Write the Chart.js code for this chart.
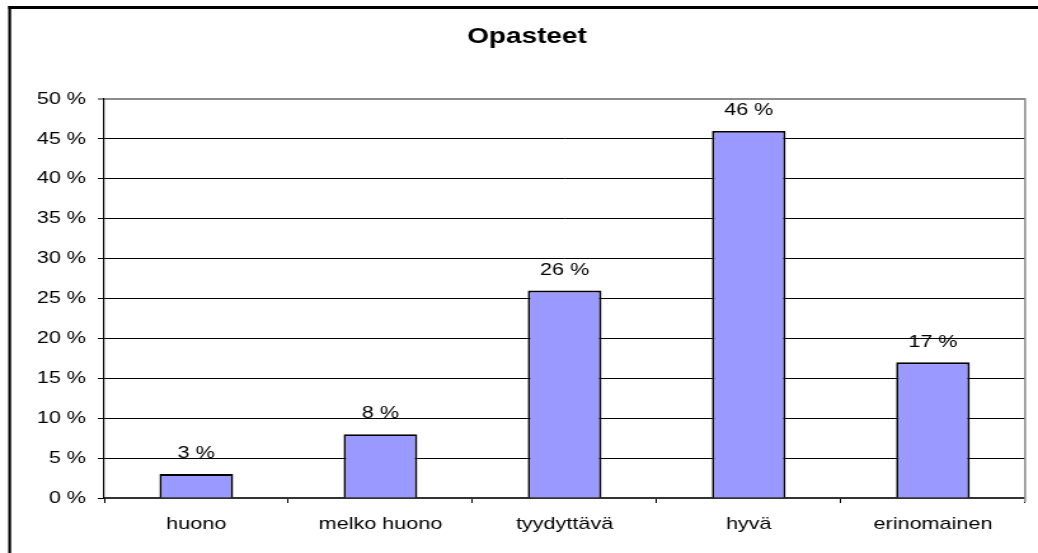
<!DOCTYPE html>
<html><head><meta charset="utf-8">
<script src="https://cdn.jsdelivr.net/npm/chart.js@4/dist/chart.umd.min.js"></script>
<style>html,body{margin:0;padding:0;background:#fff;overflow:hidden}
#c{display:block}</style>
</head><body>
<canvas id="c" width="817" height="553" style="width:1038px;height:553px"></canvas>
<script>
const chartTitle = 'Opasteet';
const categories = ['huono', 'melko huono', 'tyydyttävä', 'hyvä', 'erinomainen'];
const values = [3, 8, 26, 46, 17];
const yTickValues = [0, 5, 10, 15, 20, 25, 30, 35, 40, 45, 50];

const FONT = '"Liberation Sans", Arial, sans-serif';
const PAD_L = 22.8;

const frame = {
  id: 'frame',
  beforeDraw(chart) {
    const ctx = chart.ctx;
    ctx.save();
    ctx.fillStyle = '#fff';
    ctx.fillRect(0, 0, chart.width, chart.height);
    ctx.fillStyle = '#000';
    ctx.fillRect(6.5, 6, chart.width, 3);
    ctx.fillRect(6.5, 6, 2.2, chart.height);
    ctx.restore();
  },
  afterDraw(chart) {
    const ctx = chart.ctx, a = chart.chartArea;
    ctx.save();
    ctx.strokeStyle = '#8c8c8c';
    ctx.lineWidth = 1.6;
    ctx.beginPath();
    ctx.moveTo(a.right, a.top - 1);
    ctx.lineTo(a.right, a.bottom + 4);
    ctx.stroke();
    ctx.restore();
  }
};

const dataLabels = {
  id: 'dataLabels',
  afterDatasetsDraw(chart) {
    const ctx = chart.ctx;
    const meta = chart.getDatasetMeta(0);
    ctx.save();
    ctx.font = '17px ' + FONT;
    ctx.fillStyle = '#000';
    ctx.textAlign = 'center';
    ctx.textBaseline = 'alphabetic';
    meta.data.forEach((bar, i) => {
      ctx.fillText(values[i] + ' %', bar.x, bar.y - 15.8);
    });
    ctx.restore();
  }
};

new Chart(document.getElementById('c'), {
  type: 'bar',
  data: {
    labels: categories,
    datasets: [{
      data: values,
      backgroundColor: '#9999ff',
      borderColor: '#000',
      borderWidth: 1.9,
      barPercentage: 0.4,
      categoryPercentage: 1.0
    }]
  },
  options: {
    responsive: false,
    animation: false,
    devicePixelRatio: 1,
    layout: { padding: { left: PAD_L, right: 10.2, top: 0, bottom: 0 } },
    plugins: {
      legend: { display: false },
      tooltip: { enabled: false },
      title: {
        display: true,
        text: chartTitle,
        color: '#000',
        font: { family: FONT, size: 22, weight: 'bold', lineHeight: 1.2 },
        padding: { top: 23.7, bottom: 48.9 }
      }
    },
    scales: {
      x: {
        grid: { display: true, drawOnChartArea: false, drawTicks: true, tickLength: 5, color: '#000', lineWidth: 1 },
        border: { display: true, color: '#333', width: 2 },
        ticks: { color: '#000', font: { family: FONT, size: 17 }, padding: 10.9, maxRotation: 0, autoSkip: false },
        afterFit(scale) { scale.height = 55; }
      },
      y: {
        min: 0, max: 50,
        afterBuildTicks(scale) { scale.ticks = yTickValues.map(v => ({ value: v })); },
        grid: {
          drawTicks: true, tickLength: 5,
          color: ctx => (ctx.tick && ctx.tick.value === 50) ? '#8c8c8c' : '#000',
          lineWidth: ctx => (ctx.tick && ctx.tick.value === 50) ? 2 : 1
        },
        border: { display: true, color: '#000', width: 1.2 },
        ticks: { color: '#000', font: { family: FONT, size: 17 }, padding: 9.3, callback: v => v + ' %' },
        afterFit(scale) { scale.width = 82 - PAD_L; }
      }
    }
  },
  plugins: [frame, dataLabels]
});
</script>
</body></html>
